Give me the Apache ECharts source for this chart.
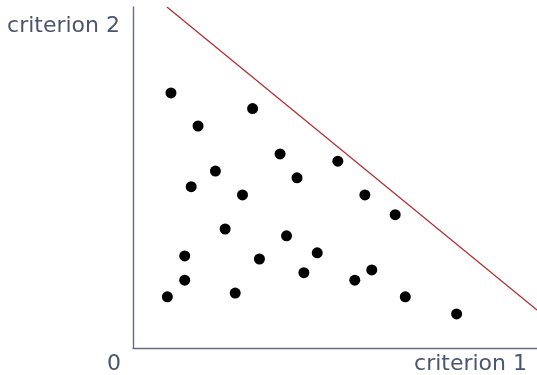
<!DOCTYPE html>
<html><head><meta charset="utf-8">
<script src="https://cdn.jsdelivr.net/npm/echarts@6/dist/echarts.min.js"></script>
<style>html,body{margin:0;padding:0;background:#fff}#c{width:537px;height:375px}</style>
</head><body><div id="c"></div>
<script>
const xName = 'criterion 1';
const yName = 'criterion 2';
const originLabel = '0';
const pointsX = [0.94,1.61,2.96,2.04,1.44,3.64,4.06,2.71,5.07,5.74,6.49,2.28,3.80,1.28,3.13,4.56,1.28,4.23,5.49,5.91,0.85,2.53,6.74,8.01];
const pointsY = [7.48,6.51,7.02,5.19,4.73,5.69,4.99,4.49,5.48,4.49,3.91,3.49,3.29,2.70,2.61,2.79,1.99,2.21,1.99,2.29,1.50,1.61,1.50,1.00];
const frontierX = [0.84, 10];
const frontierY = [10, 1.11];

const textColor = '#4b5670';
const axisColor = '#656d85';
const chart = echarts.init(document.getElementById('c'));
chart.setOption({
  animation: false,
  grid: {left: 133, right: 0, top: 7, bottom: 27, containLabel: false},
  xAxis: {
    type: 'value', min: 0, max: 10, interval: 10,
    name: xName, nameLocation: 'end', nameGap: -10,
    nameTextStyle: {color: textColor, fontFamily: 'DejaVu Sans', fontSize: 22, align: 'right', verticalAlign: 'top', padding: [5, 0, 0, 0]},
    axisLine: {show: true, onZero: false, lineStyle: {color: axisColor, width: 1.4}},
    axisTick: {show: false},
    splitLine: {show: false},
    axisLabel: {show: true, color: textColor, fontFamily: 'DejaVu Sans', fontSize: 22, margin: 5,
      showMaxLabel: false, padding: [0, 38, 0, 0],
      formatter: v => v === 0 ? originLabel : ''}
  },
  yAxis: {
    type: 'value', min: 0, max: 10,
    name: yName, nameLocation: 'end', nameGap: -19,
    nameTextStyle: {color: textColor, fontFamily: 'DejaVu Sans', fontSize: 22, align: 'right', verticalAlign: 'middle', padding: [0, 13, 0, 0]},
    axisLine: {show: true, onZero: false, lineStyle: {color: axisColor, width: 1.4}},
    axisTick: {show: false},
    splitLine: {show: false},
    axisLabel: {show: false}
  },
  series: [
    {type: 'line', data: frontierX.map((x, i) => [x, frontierY[i]]), symbol: 'none',
      lineStyle: {color: '#b3262b', width: 1.2}, silent: true},
    {type: 'scatter', data: pointsX.map((x, i) => [x, pointsY[i]]), symbolSize: 11,
      itemStyle: {color: '#000', opacity: 1}}
  ]
});
</script></body></html>
